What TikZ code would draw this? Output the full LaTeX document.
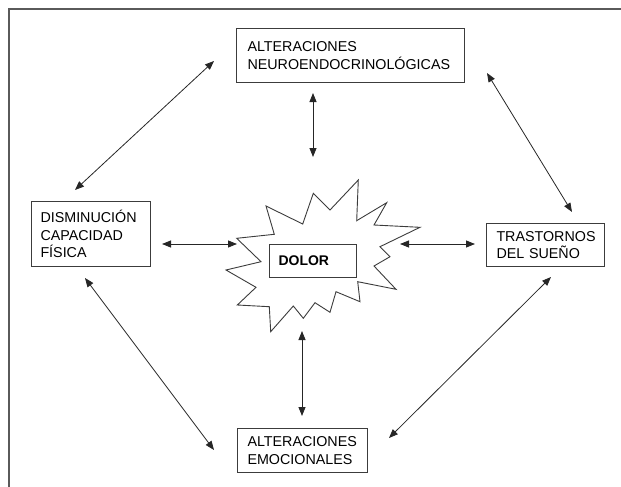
\documentclass[tikz,border=0pt]{standalone}
\usepackage{fontspec}
\setmainfont{Liberation Sans}
\usetikzlibrary{arrows.meta}
\definecolor{framegray}{HTML}{5A5A5A}
\definecolor{boxgray}{HTML}{3C3C3C}
\begin{document}
\begin{tikzpicture}[x=1pt,y=-1pt,
  box/.style={draw=boxgray, line width=1pt, align=left, anchor=north west,
    font=\fontsize{14.3}{17.5}\selectfont, inner ysep=0pt},
  link/.style={{Triangle[length=9pt,width=7pt]}-{Triangle[length=9pt,width=7pt]}, line width=0.8pt, draw=black!85}]
\useasboundingbox (0,0) rectangle (621,487);
% frame
\draw[framegray, line width=2pt] (621,9) -- (9,9) -- (9,487);
% boxes
\node[box, inner xsep=11pt, minimum width=228pt, minimum height=54pt, text width=206pt] (neuro) at (236,28)
  {ALTERACIONES\\NEUROENDOCRINOLÓGICAS};
\node[box, inner xsep=9pt, minimum width=119pt, minimum height=65pt, text width=101pt] (fis) at (31,201)
  {DISMINUCIÓN\\CAPACIDAD\\FÍSICA};
\node[box, inner xsep=10pt, minimum width=118pt, minimum height=43pt, text width=98pt] (sueno) at (486,223)
  {TRASTORNOS\\DEL SUEÑO};
\node[box, inner xsep=10pt, minimum width=130pt, minimum height=44pt, text width=110pt] (emo) at (237,428)
  {ALTERACIONES\\EMOCIONALES};
% starburst
\draw[boxgray, line width=0.9pt, fill=white]
  (236.7,238.3) -- (261,261.7) -- (226,270) -- (256,287.3) -- (237.3,305) -- (269.3,306.7)
  -- (270.7,331.7) -- (293.3,306) -- (303.3,318.3) -- (315,302.7) -- (330,312.3) -- (336,291.7)
  -- (360,301.7) -- (357.7,281.7) -- (396,289.3) -- (374,266) -- (390,256.7) -- (380,246.7)
  -- (420,227.3) -- (374,225) -- (386.7,202.7) -- (356.7,220.7) -- (358.3,180) -- (330,210)
  -- (313.3,193.3) -- (302.7,224) -- (266,206) -- (274.3,234.3) -- cycle;
\node[box, font=\fontsize{14}{17}\selectfont\bfseries, inner xsep=9pt, minimum width=87pt, minimum height=33pt, text width=69pt, fill=white] (dolor) at (269,244) {DOLOR};
% arrow end points
\coordinate (a1) at (313,93);   \coordinate (a2) at (313,157);
\coordinate (b1) at (162,244);  \coordinate (b2) at (237,244);
\coordinate (c1) at (400,244);  \coordinate (c2) at (475,244);
\coordinate (d1) at (302,331);  \coordinate (d2) at (302,416);
\coordinate (e1) at (75,190);   \coordinate (e2) at (214,61);
\coordinate (f1) at (487,73);   \coordinate (f2) at (572,212);
\coordinate (g1) at (85,278);   \coordinate (g2) at (214,450);
\coordinate (h1) at (389,438);  \coordinate (h2) at (551,277);
\draw[link] (a1) -- (a2);
\draw[link] (b1) -- (b2);
\draw[link] (c1) -- (c2);
\draw[link] (d1) -- (d2);
\draw[link] (e1) -- (e2);
\draw[link] (f1) -- (f2);
\draw[link] (g1) -- (g2);
\draw[link] (h1) -- (h2);
\end{tikzpicture}
\end{document}
